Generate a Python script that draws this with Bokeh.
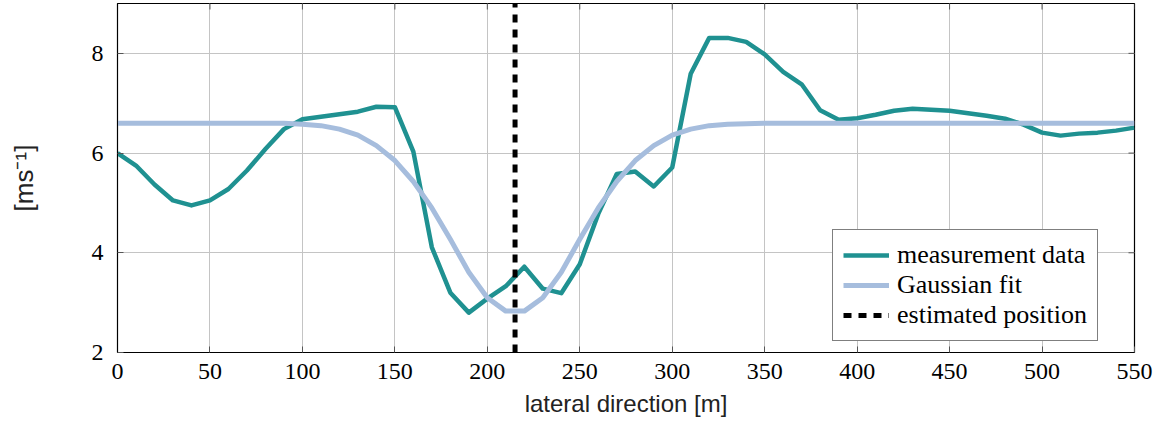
from bokeh.plotting import figure
from bokeh.models import Range1d, FixedTicker, Legend, LegendItem
from bokeh.embed import file_html
from bokeh.resources import INLINE

# ---- data ----
x_pos = list(range(0, 551, 10))
measurement = [6.00, 5.75, 5.37, 5.05, 4.95, 5.05, 5.28, 5.65, 6.08, 6.48,
               6.68, 6.73, 6.78, 6.83, 6.93, 6.92, 6.03, 4.11, 3.20, 2.80,
               3.08, 3.33, 3.72, 3.28, 3.19, 3.77, 4.78, 5.58, 5.63, 5.33,
               5.71, 7.59, 8.31, 8.31, 8.23, 7.98, 7.63, 7.38, 6.86, 6.67,
               6.70, 6.77, 6.85, 6.89, 6.87, 6.85, 6.80, 6.75, 6.69, 6.57,
               6.41, 6.35, 6.39, 6.41, 6.45, 6.51]
gaussian_fit = [6.60, 6.60, 6.60, 6.60, 6.60, 6.60, 6.60, 6.60, 6.60, 6.60,
                6.58, 6.55, 6.48, 6.36, 6.15, 5.85, 5.43, 4.90, 4.27, 3.61,
                3.10, 2.83, 2.83, 3.10, 3.61, 4.27, 4.90, 5.43, 5.85, 6.15,
                6.36, 6.48, 6.55, 6.58, 6.59, 6.60, 6.60, 6.60, 6.60, 6.60,
                6.60, 6.60, 6.60, 6.60, 6.60, 6.60, 6.60, 6.60, 6.60, 6.60,
                6.60, 6.60, 6.60, 6.60, 6.60, 6.60]
estimated_position = 215
x_ticks = [0, 50, 100, 150, 200, 250, 300, 350, 400, 450, 500, 550]
y_ticks = [2, 4, 6, 8]
x_lo, x_hi = 0, 550
y_lo, y_hi = 2, 9

TEAL = "#1f9191"
LBLUE = "#a6bddd"
SERIF = "Liberation Serif"
SANS = "Liberation Sans"

p = figure(width=1165, height=433, output_backend="svg", toolbar_location=None,
           x_range=Range1d(x_lo, x_hi), y_range=Range1d(y_lo, y_hi),
           min_border_left=117, min_border_right=31, min_border_top=3,
           min_border_bottom=81)
p.outline_line_color = "black"
p.outline_line_width = 1.2
p.background_fill_color = "white"
p.border_fill_color = "white"

# inward ticks on the right and top frame edges (no labels)
tick_dx = (x_hi - x_lo) * 6 / 1017
tick_dy = (y_hi - y_lo) * 6 / 349
p.segment(x0=[x_hi] * len(y_ticks), y0=y_ticks, x1=[x_hi - tick_dx] * len(y_ticks), y1=y_ticks,
          line_color="#555555", line_width=1)
p.segment(x0=x_ticks, y0=[y_hi] * len(x_ticks), x1=x_ticks, y1=[y_hi - tick_dy] * len(x_ticks),
          line_color="#555555", line_width=1)

r_meas = p.line(x_pos, measurement, line_color=TEAL, line_width=4.5, line_join="round")
r_fit = p.line(x_pos, gaussian_fit, line_color=LBLUE, line_width=5, line_join="round")
r_est = p.line([estimated_position, estimated_position], [y_lo, y_hi], line_color="black",
               line_width=5, line_dash="8 7", line_cap="butt")

for ax in (p.xaxis[0], p.yaxis[0]):
    ax.major_label_text_font = SERIF
    ax.major_label_text_font_size = "24px"
    ax.major_label_text_color = "black"
    ax.axis_label_text_font = SANS
    ax.axis_label_text_font_size = "24px"
    ax.axis_label_text_font_style = "normal"
    ax.axis_label_text_color = "#222222"
    ax.major_tick_in = 6
    ax.major_tick_out = 0
    ax.minor_tick_in = 0
    ax.minor_tick_out = 0
    ax.axis_line_color = "black"
    ax.major_tick_line_color = "#555555"

p.xaxis[0].ticker = FixedTicker(ticks=x_ticks)
p.yaxis[0].ticker = FixedTicker(ticks=y_ticks)
p.xaxis[0].axis_label = "lateral direction [m]"
p.yaxis[0].axis_label = "[ms\u207b\u00b9]"
p.yaxis[0].axis_label_text_font_size = "26px"
p.xaxis[0].major_label_standoff = 11
p.yaxis[0].major_label_standoff = 14
p.xaxis[0].axis_label_standoff = 8
p.yaxis[0].axis_label_standoff = 50

p.xgrid.ticker = FixedTicker(ticks=x_ticks)
p.ygrid.ticker = FixedTicker(ticks=y_ticks)
p.grid.grid_line_color = "#c4c4c4"
p.grid.grid_line_width = 1

legend = Legend(items=[
    LegendItem(label="measurement data", renderers=[r_meas]),
    LegendItem(label="Gaussian fit", renderers=[r_fit]),
    LegendItem(label="estimated position", renderers=[r_est]),
], location=(715, 11))
legend.label_text_font = SERIF
legend.label_text_font_size = "26px"
legend.label_text_color = "black"
legend.glyph_width = 46
legend.glyph_height = 28
legend.label_height = 28
legend.label_standoff = 8
legend.padding = 10
legend.spacing = 0
legend.margin = 0
legend.border_line_color = "black"
legend.border_line_width = 1
legend.background_fill_color = "white"
legend.background_fill_alpha = 1
p.add_layout(legend, "center")

open("out.html", "w").write(file_html(p, INLINE))
